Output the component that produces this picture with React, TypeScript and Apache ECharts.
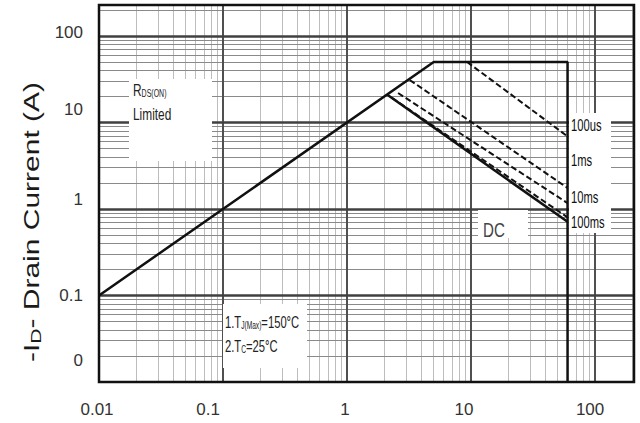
import React, { useEffect, useRef } from "react";
import * as echarts from "echarts";

// Axis ranges and tick labels
const xMin = 0.01;
const xMax = 206;
const yMin = 0.01;
const yMax = 228;
const decades = [0.01, 0.1, 1, 10, 100];
const xTickLabels = ["0.01", "0.1", "1", "10", "100"];
const yTickLabels = ["0", "0.1", "1", "10", "100"];
const minorSteps = [2, 3, 4, 5, 6, 7, 8, 9];
// the scanned original prints its tick labels slightly off their grid lines
const xLabelShift = [4, 30, 4, 14, 10];
const yLabelShift = [44, 0, 18, 26, 6];

// Safe operating area boundary: RDS(on) limit, current limit, VDS max
const limitV = [0.01, 5, 60, 60];
const limitI = [0.1, 50, 50, 0.01];
// Pulse lines
const us100V = [9.3, 60];
const us100I = [50, 6.9];
const ms1V = [3.2, 60];
const ms1I = [31, 1.75];
const ms10V = [2.58, 60];
const ms10I = [21.9, 1.17];
const ms100V = [2.31, 60];
const ms100I = [19.2, 0.8];
const dcV = [2.1, 60];
const dcI = [21, 0.71];

const FONT = "'Liberation Sans', Arial, sans-serif";

const pairs = (xs: number[], ys: number[]) => xs.map((x, i) => [x, ys[i]]);

function tickLabel(labels: string[]) {
  return (v: number) => {
    const l = Math.log10(v);
    const k = Math.round(l);
    if (Math.abs(l - k) > 0.01) return "";
    const idx = k + 2;
    if (labels[idx] == null) return "";
    return `{o${idx}|${labels[idx]}}`;
  };
}

function shiftRich(shifts: number[], horizontal: boolean) {
  const r: any = {};
  shifts.forEach((s, i) => {
    r["o" + i] = {
      color: "#333",
      fontSize: 17,
      fontFamily: FONT,
      padding: horizontal ? [0, s, 0, 0] : [0, 0, s, 0],
    };
  });
  return r;
}

export default function App() {
  const ref = useRef<HTMLDivElement>(null);
  useEffect(() => {
    if (!ref.current) return;
    const chart = echarts.init(ref.current, undefined, { renderer: "svg" });

    const minorX: number[] = [];
    const minorY: number[] = [];
    decades.forEach((d) =>
      minorSteps.forEach((m) => {
        const v = d * m;
        if (v < xMax) minorX.push(v);
        if (v < yMax) minorY.push(v);
      })
    );
    const majorVals = decades.slice(1);

    const gridSeries = (name: string, data: any[], color: string, width: number, z: number) => ({
      name,
      type: "line",
      data: [],
      z,
      silent: true,
      markLine: {
        silent: true,
        symbol: ["none", "none"],
        label: { show: false },
        lineStyle: { type: "solid", color, width },
        emphasis: { disabled: true },
        data,
      },
    });

    const lineSeries = (name: string, xs: number[], ys: number[], dashed: boolean, width: number) => ({
      name,
      type: "line",
      data: pairs(xs, ys),
      showSymbol: false,
      symbol: "none",
      z: 5,
      silent: true,
      lineStyle: { color: "#111", width, type: dashed ? [6, 3] : "solid" },
    });

    const rect = (x: number, y: number, w: number, h: number) => ({
      type: "rect",
      shape: { x, y, width: w, height: h },
      style: { fill: "#fff" },
      z: 20,
      silent: true,
    });

    const text = (x: number, y: number, t: string, opts: any = {}) => ({
      type: "text",
      x,
      y,
      scaleX: opts.scaleX ?? 0.7,
      z: 21,
      silent: true,
      style: {
        text: t,
        fill: opts.color ?? "#222",
        font: `${opts.weight ?? "normal"} ${opts.size ?? 17}px ${FONT}`,
        align: "left",
        verticalAlign: "middle",
        rich: opts.rich,
      },
    });

    const subRich = { s: { fontSize: 10, fontFamily: FONT, verticalAlign: "bottom", fill: "#222" } };

    chart.setOption({
      animation: false,
      backgroundColor: "#fff",
      grid: {
        left: 99,
        right: 6,
        top: 5,
        bottom: 41,
        show: true,
        borderColor: "#111",
        borderWidth: 2.5,
        backgroundColor: "transparent",
        z: 30,
      },
      xAxis: {
        type: "log",
        logBase: 10,
        min: xMin,
        max: xMax,
        axisLine: { show: false },
        axisTick: { show: false },
        splitLine: { show: false },
        minorTick: { show: false },
        axisLabel: {
          margin: 19,
          color: "#333",
          fontSize: 17,
          fontFamily: FONT,
          showMaxLabel: false,
          formatter: tickLabel(xTickLabels),
          rich: shiftRich(xLabelShift, true),
        },
      },
      yAxis: {
        type: "log",
        logBase: 10,
        min: yMin,
        max: yMax,
        axisLine: { show: false },
        axisTick: { show: false },
        splitLine: { show: false },
        axisLabel: {
          margin: 16,
          color: "#333",
          fontSize: 17,
          fontFamily: FONT,
          showMaxLabel: false,
          formatter: tickLabel(yTickLabels),
          rich: shiftRich(yLabelShift, false),
        },
      },
      series: [
        gridSeries("minorX", minorX.map((v) => ({ xAxis: v })), "#bdbdbd", 1, 1),
        gridSeries("minorY", minorY.map((v) => ({ yAxis: v })), "#8a8a8a", 1, 1),
        gridSeries("majorX", majorVals.map((v) => ({ xAxis: v })), "#505050", 2, 2),
        gridSeries("majorY", majorVals.map((v) => ({ yAxis: v })), "#404040", 2.5, 2),
        lineSeries("limit", limitV, limitI, false, 2.5),
        lineSeries("DC", dcV, dcI, false, 2.5),
        lineSeries("100us", us100V, us100I, true, 2),
        lineSeries("1ms", ms1V, ms1I, true, 2),
        lineSeries("10ms", ms10V, ms10I, true, 2),
        lineSeries("100ms", ms100V, ms100I, true, 2),
      ],
      graphic: [
        rect(129, 79, 83, 82),
        rect(478, 210, 50, 28),
        rect(223, 304, 84, 64),
        rect(569, 113, 42, 120),
        text(133, 90, "R{s|DS(ON)}", { size: 17, rich: subRich }),
        text(133, 114, "Limited", { size: 17 }),
        text(483, 230, "DC", { size: 21, color: "#444", scaleX: 0.72 }),
        text(225, 322, "1.T{s|J(Max)}=150°C", { size: 17, scaleX: 0.66, rich: subRich }),
        text(225, 346, "2.T{s|C}=25°C", { size: 17, scaleX: 0.66, rich: subRich }),
        text(571, 125, "100us", { size: 16, color: "#111", scaleX: 0.7 }),
        text(571, 160, "1ms", { size: 16, color: "#111", scaleX: 0.7 }),
        text(571, 197, "10ms", { size: 16, color: "#111", scaleX: 0.7 }),
        text(571, 222, "100ms", { size: 16, color: "#111", scaleX: 0.7 }),
        {
          type: "text",
          x: 32,
          y: 222,
          rotation: Math.PI / 2,
          scaleY: 0.72,
          z: 21,
          silent: true,
          style: {
            text: "-I{s|D}- Drain Current (A)",
            fill: "#1a1a1a",
            font: `normal 30px ${FONT}`,
            align: "center",
            verticalAlign: "middle",
            rich: { s: { fontSize: 21, fontFamily: FONT, fill: "#1a1a1a", verticalAlign: "bottom" } },
          },
        },
      ],
    });
    return () => chart.dispose();
  }, []);
  return (
    <div
      ref={ref}
      style={{ position: "fixed", left: 0, top: 0, width: 640, height: 423, background: "#fff" }}
    />
  );
}
